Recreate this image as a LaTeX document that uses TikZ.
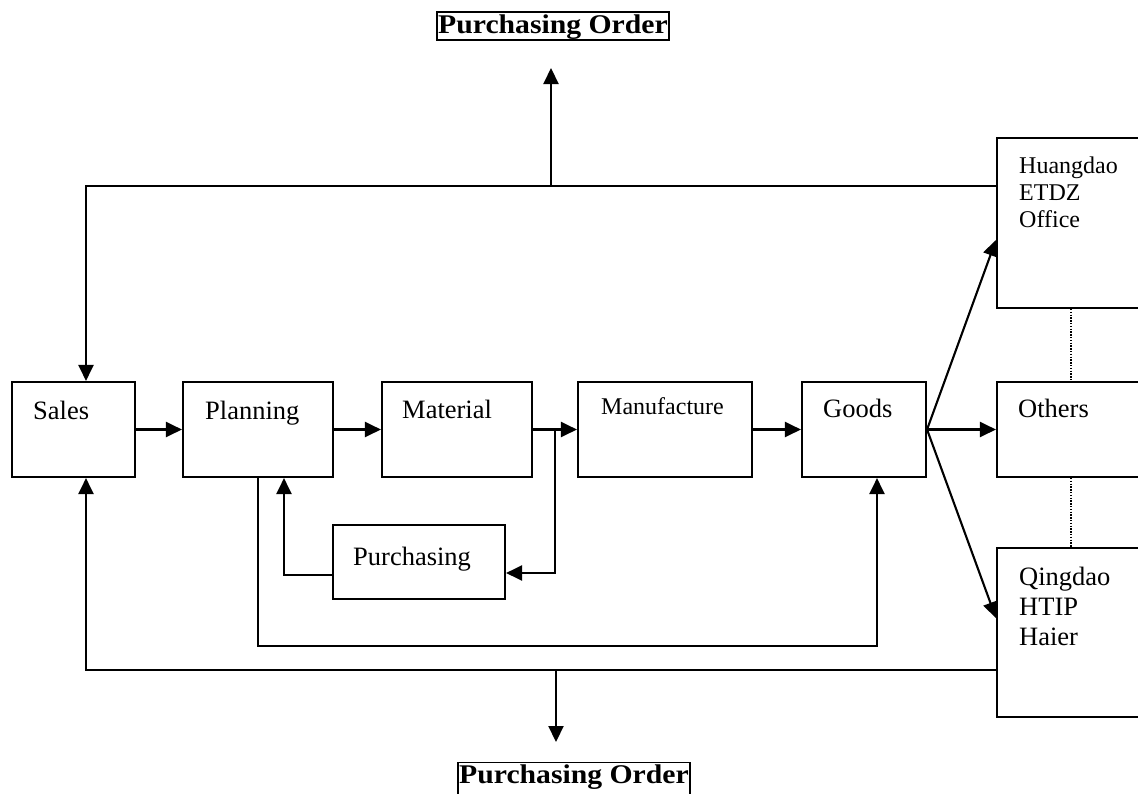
\documentclass[tikz,border=0pt]{standalone}
\usepackage{fontspec}
\usepackage{graphicx}
\setmainfont{Liberation Serif}
\usetikzlibrary{arrows.meta,calc}

\begin{document}
\begin{tikzpicture}[x=1pt,y=-1pt,
  box/.style={draw, line width=2.1pt, inner sep=0pt},
  arr/.style={line width=2.1pt, -{Triangle[length=16pt,width=15pt]}},
  lbl/.style={anchor=base west, inner sep=0pt, font=\fontsize{26.5}{30}\selectfont},
  small/.style={anchor=base west, inner sep=0pt, font=\fontsize{24}{27}\selectfont},
  link/.style={line width=1.4pt, dash pattern=on 1.4pt off 1.4pt},
  order/.style={draw, line width=1.4pt, inner xsep=1pt, inner ysep=1pt,
    text height=20pt, font=\bfseries\fontsize{27}{30}\selectfont}]

\clip (0,0) rectangle (1138,793);

% process boxes
\node[box, minimum width=123pt, minimum height=95pt] (sales)  at (73.5,429.5) {};
\node[box, minimum width=150pt, minimum height=95pt] (plan)   at (258,429.5) {};
\node[box, minimum width=150pt, minimum height=95pt] (mat)    at (457,429.5) {};
\node[box, minimum width=174pt, minimum height=95pt] (manu)   at (665,429.5) {};
\node[box, minimum width=124pt, minimum height=95pt] (goods)  at (864,429.5) {};
\node[box, minimum width=172pt, minimum height=74pt] (purch)  at (419,562) {};
% destinations (running off the right edge)
\node[box, minimum width=163pt, minimum height=170pt] (huang)  at (1078.5,223) {};
\node[box, minimum width=163pt, minimum height=95pt]  (others) at (1078.5,429.5) {};
\node[box, minimum width=163pt, minimum height=169pt] (qing)   at (1078.5,632.5) {};

% box texts
\node[lbl] (salesT) at (33,419) {Sales};
\node[lbl] (planT)  at (205,419) {Planning};
\node[lbl] (matT)   at (402,418) {Material};
\node[small] (manuT) at (601,414) {Manufacture};
\node[lbl] (goodsT) at (823,417) {Goods};
\node[lbl] (othT)   at (1018,417) {Others};
\node[lbl] (purT)   at (353,565) {Purchasing};
\node[small] (hT1) at (1019,173) {Huangdao};
\node[small] (hT2) at (1019,200) {ETDZ};
\node[small] (hT3) at (1019,227) {Office};
\node[lbl] (qT1) at (1019,585) {Qingdao};
\node[lbl] (qT2) at (1019,615) {HTIP};
\node[lbl] (qT3) at (1019,645) {Haier};

% purchasing order labels
\node[order, text depth=6pt] (poTop) at (553,26) {\scalebox{1.1}[1]{Purchasing Order}};
\node[order, text depth=14pt, anchor=north] (poBot) at (574,762) {\scalebox{1.1}[1]{Purchasing Order}};

% helper coordinates
\coordinate (topbus) at (0,186);
\coordinate (botbus) at (0,670);
\coordinate (loopY)  at (0,646);
\coordinate (upTip)  at (551,68);
\coordinate (downTip) at (556,742);
\coordinate (dotx)   at (1071,0);
\coordinate (j) at ($(mat.east)!0.5!(manu.west)$);

% main chain
\draw[arr] (sales.east) -- (plan.west);
\draw[arr] (plan.east) -- (mat.west);
\draw[arr] (mat.east) -- (manu.west);
\draw[arr] (manu.east) -- (goods.west);

% purchasing loop
\draw[arr] (j) |- ([yshift=-11pt]purch.east);
\draw[arr] ([yshift=-13pt]purch.west) -| ([xshift=26pt]plan.south);

% planning to goods
\draw[arr] (plan.south) -- (plan.south |- loopY) -| ([xshift=13pt]goods.south);

% distribution fan
\draw[arr] (goods.east) -- ([yshift=-17pt]huang.west);
\draw[arr] (goods.east) -- (others.west);
\draw[arr] (goods.east) -- ([yshift=14.5pt]qing.west);

% dotted links between destinations
\draw[link] (huang.south -| dotx) -- (others.north -| dotx);
\draw[link] (others.south -| dotx) -- (qing.north -| dotx);

% top feedback bus
\draw[arr] (huang.west |- topbus) -| ([xshift=12.5pt]sales.north);
\draw[arr] (upTip |- topbus) -- (upTip);

% bottom feedback bus
\draw[arr] (qing.west |- botbus) -| ([xshift=12.5pt]sales.south);
\draw[arr] (downTip |- botbus) -- (downTip);

\end{tikzpicture}
\end{document}
